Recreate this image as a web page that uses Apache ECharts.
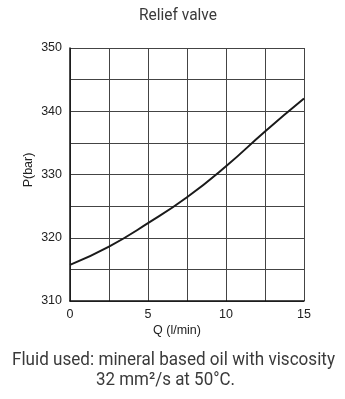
<!DOCTYPE html>
<html>
<head>
<meta charset="utf-8">
<script src="https://cdn.jsdelivr.net/npm/echarts@6/dist/echarts.min.js"></script>
<style>
  html, body { margin: 0; padding: 0; background: #fff; }
  #chart { width: 345px; height: 399px; }
</style>
</head>
<body>
<div id="chart"></div>
<script>
// Pressure rise of the relief valve against flow
const flowQ = [0, 2.5, 5, 7.5, 10, 12.5, 15];                       // l/min
const pressureP = [315.7, 318.6, 322.3, 326.4, 331.3, 336.8, 342]; // bar
const xTicks = [0, 5, 10, 15];
const yTicks = [310, 320, 330, 340, 350];
const titleText = 'Relief valve';
const noteLines = ['Fluid used: mineral based oil with viscosity', '32 mm²/s at 50°C.'];

const AXIS_FONT = '"Liberation Sans", Arial, sans-serif';
const COND_FONT = 'Roboto, "Liberation Sans", sans-serif';
const GRID = { left: 70, top: 48, width: 234, height: 253 };

// Condensed headline text: Roboto squeezed horizontally to a given width
const measureCtx = document.createElement('canvas').getContext('2d');
function condensed(text, size, cx, cy, width, color) {
  measureCtx.font = size + 'px ' + COND_FONT;
  const w = measureCtx.measureText(text).width;
  return {
    type: 'text', x: cx, y: cy, scaleX: width / w, scaleY: 1,
    style: { text, fontSize: size, fontFamily: COND_FONT, fill: color,
             align: 'center', verticalAlign: 'middle' }
  };
}

const chart = echarts.init(document.getElementById('chart'), null, { renderer: 'canvas' });
chart.setOption({
  animation: false,
  grid: GRID,
  graphic: [
    condensed(titleText, 16.5, 178, 15.5, 78, '#3a3a3a'),
    condensed(noteLines[0], 18.5, 173.5, 360.5, 323, '#3a3a3a'),
    condensed(noteLines[1], 18.5, 165.5, 380.5, 139, '#3a3a3a'),
    {
      type: 'text', x: 177, y: 330.5,
      style: { text: 'Q (l/min)', fontSize: 12.5, fontFamily: AXIS_FONT, fill: '#222',
               align: 'center', verticalAlign: 'middle' }
    },
    {
      type: 'text', x: 29, y: 170, rotation: Math.PI / 2,
      style: { text: 'P(bar)', fontSize: 12.5, fontFamily: AXIS_FONT, fill: '#222',
               align: 'center', verticalAlign: 'middle' }
    }
  ],
  xAxis: {
    type: 'value', min: 0, max: 15, interval: 2.5,
    axisLine: { show: true, lineStyle: { color: '#111', width: 1.5 } },
    axisTick: { show: false },
    axisLabel: {
      fontFamily: AXIS_FONT, fontSize: 12.5, color: '#222', margin: 7,
      formatter: v => xTicks.includes(v) ? String(v) : ''
    },
    splitLine: { show: true, lineStyle: { color: '#444', width: 1 } }
  },
  yAxis: {
    type: 'value', min: 310, max: 350, interval: 5,
    axisLine: { show: true, lineStyle: { color: '#111', width: 1.5 } },
    axisTick: { show: false },
    axisLabel: {
      fontFamily: AXIS_FONT, fontSize: 12.5, color: '#222', margin: 8,
      formatter: v => yTicks.includes(v) ? String(v) : ''
    },
    splitLine: { show: true, lineStyle: { color: '#444', width: 1 } }
  },
  series: [{
    type: 'line',
    data: flowQ.map((q, i) => [q, pressureP[i]]),
    smooth: true,
    showSymbol: false,
    lineStyle: { color: '#1a1a1a', width: 2 }
  }]
});
</script>
</body>
</html>
